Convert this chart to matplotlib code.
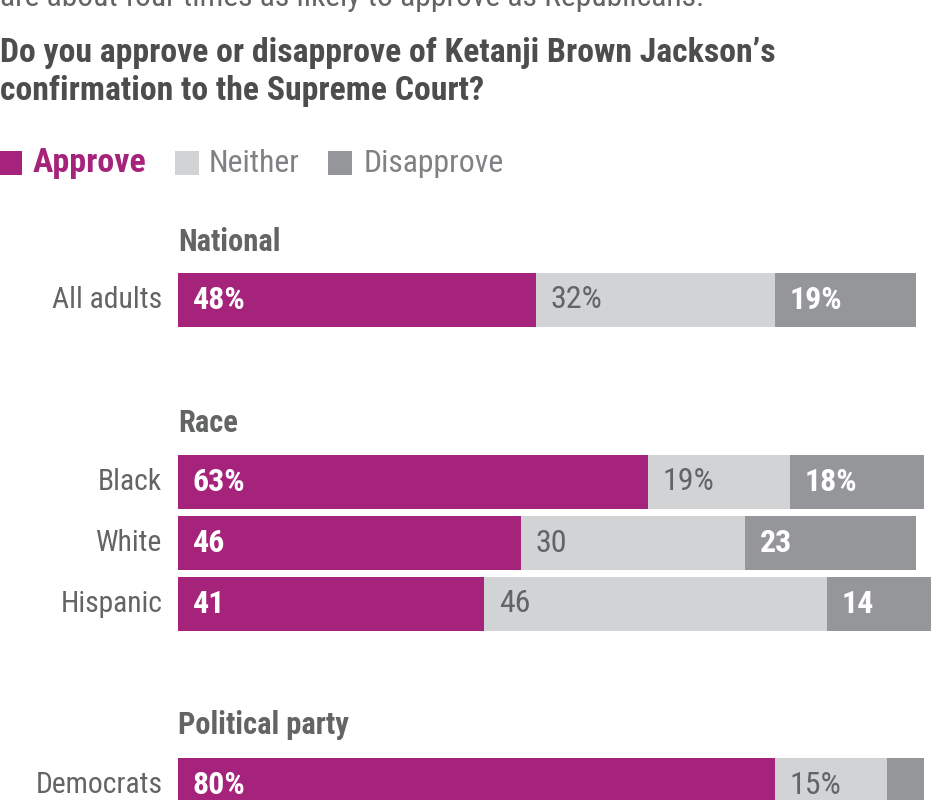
import matplotlib
matplotlib.use("Agg")
import matplotlib.pyplot as plt
from matplotlib import font_manager
from matplotlib.patches import Rectangle

# ---- data ----
groups = ["National", "Race", "Political party"]
categories = ["All adults", "Black", "White", "Hispanic", "Democrats"]
approve = [48, 63, 46, 41, 80]
neither = [32, 19, 30, 46, 15]
disapprove = [19, 18, 23, 14, 5]
approve_labels = ["48%", "63%", "46", "41", "80%"]
neither_labels = ["32%", "19%", "30", "46", "15%"]
disapprove_labels = ["19%", "18%", "23", "14", ""]
legend_labels = ["Approve", "Neither", "Disapprove"]
subtitle_top = "are about four times as likely to approve as Republicans."
title_lines = ["Do you approve or disapprove of Ketanji Brown Jackson\u2019s",
               "confirmation to the Supreme Court?"]

# ---- style ----
names = {f.name for f in font_manager.fontManager.ttflist}
FONT = ["Liberation Sans Narrow", "Roboto Condensed", "Open Sans Condensed",
        "Liberation Sans", "DejaVu Sans"]
FONT = [f for f in FONT if f in names] or ["DejaVu Sans"]
plt.rcParams["font.family"] = FONT

C_APP = "#A5237B"
C_NEI = "#D1D3D4"
C_DIS = "#95969A"
C_TXT = "#636466"
C_TITLE = "#4D4D4F"

W, H = 936, 800
fig = plt.figure(figsize=(W / 100, H / 100), dpi=100)
ax = fig.add_axes([0, 0, 1, 1])
px_per = 7.458
x0_px = 178
ax.set_xlim(-x0_px / px_per, (W - x0_px) / px_per)
ax.set_ylim(H, 0)
ax.axis("off")


def px2x(p):
    return (p - x0_px) / px_per


# rows layout (pixel centres)
row_y = [300, 482, 543, 604, 785]
group_y = {"National": 242, "Race": 423, "Political party": 725}
bar_h = 54

ax.barh(row_y, approve, height=bar_h, color=C_APP, left=0)
ax.barh(row_y, neither, height=bar_h, color=C_NEI, left=approve)
ax.barh(row_y, disapprove, height=bar_h, color=C_DIS,
        left=[a + n for a, n in zip(approve, neither)])

FS_CAT = 21.3
FS_NUM = 23.0
FS_GRP = 22.0
FS_TITLE = 24.3
FS_TOP = 22.8
FS_LEG_B = 24.5
FS_LEG = 22.9
pad = 2.0
for i, y in enumerate(row_y):
    a, n = approve[i], neither[i]
    ax.text(pad, y, approve_labels[i], color="white", fontsize=FS_NUM,
            fontweight="bold", va="center", ha="left")
    ax.text(a + pad, y, neither_labels[i], color=C_TXT, fontsize=FS_NUM,
            va="center", ha="left")
    if disapprove_labels[i]:
        ax.text(a + n + pad, y, disapprove_labels[i], color="white",
                fontsize=FS_NUM, fontweight="bold", va="center", ha="left")
    ax.text(-2.1, y, categories[i], color=C_TXT, fontsize=FS_CAT,
            va="center", ha="right")

for g in groups:
    ax.text(0, group_y[g], g, color=C_TXT, fontsize=FS_GRP,
            fontweight="bold", va="center", ha="left")

# top texts
ax.text(px2x(0), 6, subtitle_top, color=C_TXT, fontsize=FS_TOP,
        va="baseline", ha="left")
for yb, line in zip([62, 100], title_lines):
    ax.text(px2x(0), yb, line, color=C_TITLE, fontsize=FS_TITLE,
            fontweight="bold", va="baseline", ha="left")

# legend
leg_y = 163
sq = 24
leg_items = [(0, C_APP, legend_labels[0], 33, C_APP, "bold", FS_LEG_B),
             (177, C_NEI, legend_labels[1], 209, "#808184", "normal", FS_LEG),
             (330, C_DIS, legend_labels[2], 364, "#808184", "normal", FS_LEG)]
for sx, col, lab, tx, tcol, fw, fs in leg_items:
    ax.add_patch(Rectangle((px2x(sx - 2), leg_y - sq / 2), sq / px_per, sq,
                           color=col, lw=0))
    ax.text(px2x(tx), leg_y, lab, color=tcol, fontsize=fs, fontweight=fw,
            va="center", ha="left")

fig.savefig("out.png", dpi=100)
